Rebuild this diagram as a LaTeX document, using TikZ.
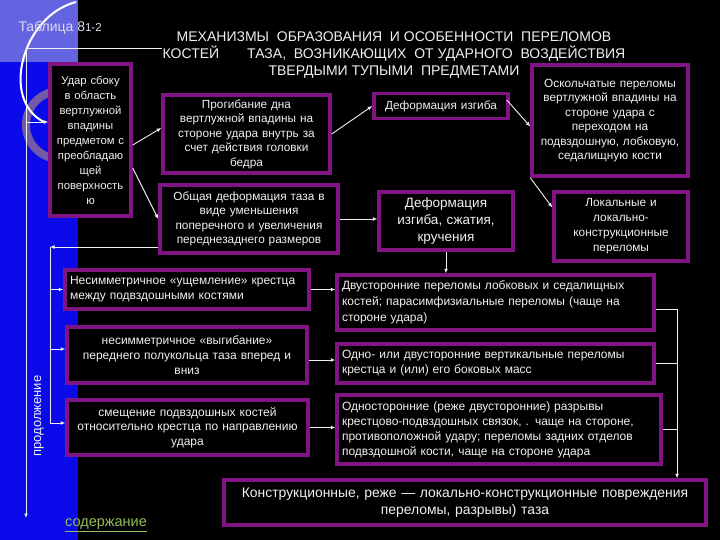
\documentclass[tikz,border=0pt]{standalone}
\usepackage{fontspec}
\setmainfont{Liberation Sans}
\usetikzlibrary{arrows.meta}
\definecolor{boxpurple}{RGB}{128,20,130}
\definecolor{stripblue}{RGB}{10,10,235}
\definecolor{patchblue}{RGB}{100,100,225}
\definecolor{ringgray}{RGB}{115,90,165}
\definecolor{linkgreen}{RGB}{150,190,90}
\definecolor{textwhite}{RGB}{240,240,240}

\begin{document}
\begin{tikzpicture}[x=1pt,y=-1pt,
    box/.style={draw=boxpurple, line width=3.5pt, fill=black, text=textwhite, align=center, inner sep=1pt, font=\fontsize{11.8}{14.5}\selectfont},
    link/.style={draw=textwhite, line width=0.9pt},
    >={Latex[length=4.5pt,width=4pt]}]

	%---BACKGROUND---
	\useasboundingbox (0,0) rectangle (720,540);
	\fill[black] (0,0) rectangle (720,540);
	\fill[stripblue] (0,0) rectangle (78,540);
	\fill[patchblue] (0,0) rectangle (78,62);
	\draw[ringgray, line width=8pt] (60,125) circle (34pt);
	\draw[white, line width=2pt] (76,2) .. controls (22,16) and (0,100) .. (44,122);

	%---NODES---
	\node[text=textwhite, align=center, font=\fontsize{14}{17}\selectfont] (title) at (394,55) {МЕХАНИЗМЫ\ \ ОБРАЗОВАНИЯ\ \ И ОСОБЕННОСТИ\ \ ПЕРЕЛОМОВ\\ КОСТЕЙ\qquad ТАЗА,\ \ ВОЗНИКАЮЩИХ\ \ ОТ УДАРНОГО\ \ ВОЗДЕЙСТВИЯ\\ ТВЕРДЫМИ ТУПЫМИ\ \ ПРЕДМЕТАМИ};
	\node[anchor=west, text=textwhite!85!patchblue, font=\fontsize{14}{16}\selectfont] (tabl) at (15,28) {Таблица 8{\fontsize{11.5}{13}\selectfont 1-2}};

	\node[box, minimum width=81, minimum height=152, text width=78, font=\fontsize{11.3}{15}\selectfont] (udar) at (90.5,140) {Удар сбоку\\в область\\вертлужной\\впадины\\предметом с\\преобладаю\\щей\\поверхность\\ю};
	\node[box, minimum width=167, minimum height=78, text width=160] (progib) at (246.5,134) {Прогибание дна\\вертлужной впадины на\\стороне удара внутрь за\\счет действия головки\\бедра};
	\node[box, minimum width=178, minimum height=68, text width=172] (obshch) at (249,219) {Общая деформация таза в\\виде уменьшения\\поперечного и увеличения\\переднезаднего размеров};
	\node[box, minimum width=134, minimum height=25, text width=128] (izgib) at (441,106) {Деформация изгиба};
	\node[box, minimum width=156, minimum height=111, text width=152, font=\fontsize{11.8}{14.5}\selectfont] (oskol) at (610,120.5) {Оскольчатые переломы\\вертлужной впадины на\\стороне удара с\\переходом на\\подвздошную, лобковую,\\седалищную кости};
	\node[box, minimum width=134, minimum height=58, text width=128, font=\fontsize{13.5}{17}\selectfont] (izgsj) at (446,221) {Деформация\\изгиба, сжатия,\\кручения};
	\node[box, minimum width=134, minimum height=69, text width=130, font=\fontsize{11.8}{15}\selectfont] (lokal) at (621,226.5) {Локальные и\\локально-\\конструкционные\\переломы};

	\node[box, minimum width=244, minimum height=39, text width=234, align=left, font=\fontsize{12}{15}\selectfont] (ushch) at (187,289.5) {Несимметричное «ущемление» крестца\\между подвздошными костями};
	\node[box, minimum width=240, minimum height=56, text width=234, font=\fontsize{12}{15}\selectfont] (vygib) at (187,355) {несимметричное «выгибание»\\переднего полукольца таза вперед и\\вниз};
	\node[box, minimum width=241, minimum height=55, text width=234, font=\fontsize{12}{14.5}\selectfont] (smesh) at (187.5,427.5) {смещение подвздошных костей\\относительно крестца по направлению\\удара};

	\node[box, minimum width=317, minimum height=55, text width=307, align=left, font=\fontsize{12}{16}\selectfont] (dvust) at (495.5,302.5) {Двусторонние переломы лобковых и седалищных\\костей; парасимфизиальные переломы (чаще на\\стороне удара)};
	\node[box, minimum width=317, minimum height=39, text width=307, align=left, font=\fontsize{12}{15}\selectfont] (vertik) at (495.5,363.5) {Одно- или двусторонние вертикальные переломы\\крестца и (или) его боковых масс};
	\node[box, minimum width=324, minimum height=69, text width=314, align=left, font=\fontsize{12}{15}\selectfont] (odnost) at (499,429.5) {Односторонние (реже двусторонние) разрывы\\крестцово-подвздошных связок, . чаще на стороне,\\противоположной удару; переломы задних отделов\\подвздошной кости, чаще на стороне удара};
	\node[box, minimum width=482, minimum height=45, text width=474, font=\fontsize{13.9}{17}\selectfont] (konstr) at (465,502.5) {Конструкционные, реже — локально-конструкционные повреждения\\переломы, разрывы) таза};

	\node[rotate=90, text=textwhite, font=\fontsize{13}{15}\selectfont] (prodol) at (39,416) {продолжение};
	\node[text=linkgreen, font=\fontsize{14.5}{16}\selectfont] (soderzh) at (106,525) {\underline{содержание}};

	%---COORDINATES---
	\coordinate (vtop) at (26,48);
	\coordinate (htop) at (162,48);
	\coordinate (vbot) at (26,518);
	\coordinate (lbus) at (50,247);
	\coordinate (lbusend) at (50,423);
	\coordinate (rbus) at (677,309);
	\coordinate (udarin) at ([yshift=18pt]udar.west);
	\coordinate (vygibin) at ([yshift=6pt]vygib.west);
	\coordinate (vygibout) at ([yshift=-5pt]vygib.east);
	\coordinate (obshchout) at ([yshift=-28pt]obshch.west);

	%---EDGES---
	\draw[link] (htop) -- (vtop);
	\draw[link,->] (vtop) -- (vbot);
	\draw[link,->] (vtop |- udarin) -- (udarin);
	\draw[link,->] ([yshift=-5pt]udar.east) -- ([yshift=6pt]progib.west);
	\draw[link,->] ([yshift=-28pt]udar.east) -- (obshch.west);
	\draw[link,->] (progib.east) -- (izgib.west);
	\draw[link,->] ([xshift=-3pt,yshift=6pt]izgib.east) -- ([yshift=-6pt]oskol.west);
	\draw[link,->] (obshch.east) -- (obshch.east -| izgsj.west);
	\draw[link,->] (oskol.south west) -- ([yshift=19pt]lokal.west);
	\draw[link,->] (izgsj.south) -- (izgsj.south |- dvust.north);

	\draw[link,->] (obshchout) -- (lbus);
	\draw[link] (lbus) -- (lbusend);
	\draw[link,->] (lbus |- ushch.west) -- (ushch.west);
	\draw[link,->] (lbus |- vygibin) -- (vygibin);
	\draw[link,->] (lbusend) -- (lbusend -| smesh.west);

	\draw[link,->] (ushch.east) -- (ushch.east -| dvust.west);
	\draw[link,->] (vygibout) -- (vygibout -| vertik.west);
	\draw[link,->] (smesh.east) -- (smesh.east -| odnost.west);

	\draw[link] (dvust.east |- rbus) -- (rbus);
	\draw[link] (vertik.east) -- (vertik.east -| rbus);
	\draw[link] (odnost.east) -- (odnost.east -| rbus);
	\draw[link,->] (rbus) -- (rbus |- konstr.north);

\end{tikzpicture}
\end{document}
